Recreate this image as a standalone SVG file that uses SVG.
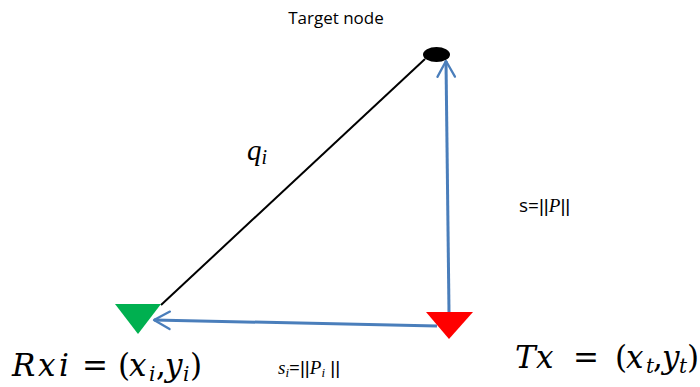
<svg xmlns="http://www.w3.org/2000/svg" width="700" height="387" viewBox="0 0 700 387">
<style>
.m{font-family:"DejaVu Serif","Liberation Serif",serif;fill:#000}
.q{font-family:"Liberation Serif","DejaVu Serif",serif;fill:#000}
.i{font-style:italic}
.s{font-family:"Open Sans","Liberation Sans",sans-serif;fill:#000}
.b{font-family:"Liberation Sans",sans-serif;fill:#000}
.blue{stroke:#4a7ebb;stroke-width:3;fill:none}
</style>
<defs>
<marker id="ah" viewBox="0 0 12 12" refX="10" refY="6" markerWidth="7" markerHeight="7" orient="auto" markerUnits="strokeWidth">
<path d="M1,1 L10,6 L1,11" fill="none" stroke="#4a7ebb" stroke-width="1.3" stroke-linecap="round" stroke-linejoin="round"/>
</marker>
</defs>
<rect width="700" height="387" fill="#fff"/>
<g id="connectors">
<line x1="161" y1="305" x2="425" y2="59" stroke="#000" stroke-width="2"/>
<line class="blue" x1="449" y1="312" x2="446" y2="61" marker-end="url(#ah)"/>
<line class="blue" x1="437" y1="326" x2="154" y2="320" marker-end="url(#ah)"/>
</g>
<g id="target">
<ellipse cx="436.5" cy="54.5" rx="13.5" ry="7.5" fill="#000"/>
<text class="s" x="336" y="24" font-size="17" text-anchor="middle">Target node</text>
</g>
<g id="rx">
<polygon points="115,304 161,304 138,334" fill="#00b050"/>
<text class="m" y="376" font-size="31"><tspan class="i" x="12">R</tspan><tspan class="i" x="38">x</tspan><tspan class="i" x="59">i</tspan><tspan x="82">=</tspan><tspan x="118">(</tspan><tspan class="i" x="129">x</tspan><tspan class="i" x="149" font-size="20" dy="5">i</tspan><tspan x="156" dy="-5">,</tspan><tspan class="i" x="165">y</tspan><tspan class="i" x="183" font-size="20" dy="5">i</tspan><tspan x="190" dy="-5">)</tspan></text>
</g>
<g id="tx">
<polygon points="426,312 473,312 449,339" fill="#ff0000"/>
<text class="m" y="368" font-size="31"><tspan class="i" x="515">T</tspan><tspan class="i" x="536">x</tspan><tspan x="573">=</tspan><tspan x="615">(</tspan><tspan class="i" x="626">x</tspan><tspan class="i" x="646" font-size="20" dy="5">t</tspan><tspan x="653" dy="-5">,</tspan><tspan class="i" x="662">y</tspan><tspan class="i" x="679" font-size="20" dy="5">t</tspan><tspan x="687" dy="-5">)</tspan></text>
</g>
<g id="labels">
<text class="q i" x="247" y="160" font-size="29">q<tspan font-size="20" dy="4">i</tspan></text>
<text x="519" y="212" font-size="19"><tspan class="s">s=</tspan><tspan class="b">||</tspan><tspan class="q i">P</tspan><tspan class="b">||</tspan></text>
<text x="278" y="374" font-size="19"><tspan class="q i">s</tspan><tspan class="q i" font-size="13" dy="3">i</tspan><tspan class="s" dy="-3">=</tspan><tspan class="b">||</tspan><tspan class="q i">P</tspan><tspan class="q i" font-size="13" dy="3">i</tspan><tspan class="b" dy="-3"> ||</tspan></text>
</g>
</svg>
